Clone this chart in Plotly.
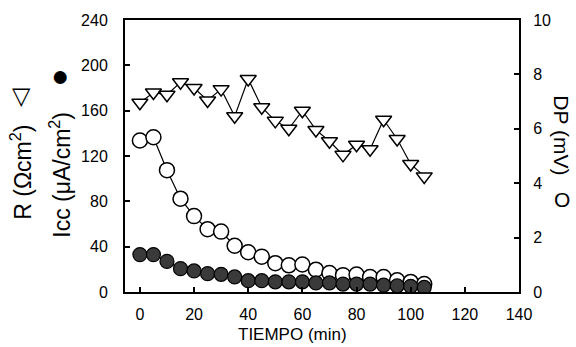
import plotly.graph_objects as go

tiempo = [0, 5, 10, 15, 20, 25, 30, 35, 40, 45, 50, 55, 60, 65, 70, 75, 80, 85, 90, 95, 100, 105]
R_vals = [167, 176, 174, 185, 180, 169, 179, 155, 188, 163, 151, 144, 160, 143, 133, 121, 130, 126, 152, 135, 113, 102]
DP_vals = [5.57, 5.69, 4.48, 3.43, 2.79, 2.31, 2.22, 1.70, 1.46, 1.30, 1.06, 0.98, 1.01, 0.82, 0.70, 0.62, 0.64, 0.55, 0.55, 0.43, 0.37, 0.29]
Icc_vals = [33, 33, 27, 20.6, 18.6, 16.2, 15.6, 13.3, 10, 10, 9, 9, 9, 8, 8, 7, 7, 7, 6, 5.5, 5, 4]

x_ticks = [0, 20, 40, 60, 80, 100, 120, 140]
left_ticks = [0, 40, 80, 120, 160, 200, 240]
right_ticks = [0, 2, 4, 6, 8, 10]

FONT = "Liberation Sans, Arial, sans-serif"
L, R, T, B = 125, 57, 16, 55
W, H = 576, 347
PW, PH = W - L - R, H - T - B

def px(x):
    return (x - L) / PW

def py(y):
    return (H - B - y) / PH

fig = go.Figure()

# DP on primary y (right side), R and Icc on y2 (left side, drawn on top)
fig.add_trace(go.Scatter(
    x=tiempo, y=DP_vals, yaxis="y", mode="lines+markers",
    line=dict(color="black", width=1.2),
    marker=dict(symbol="circle", size=15, color="white", line=dict(color="black", width=1.5)),
    showlegend=False))
fig.add_trace(go.Scatter(
    x=tiempo, y=R_vals, yaxis="y2", mode="lines+markers",
    line=dict(color="black", width=1.2),
    marker=dict(symbol="triangle-down", size=14, color="white", line=dict(color="black", width=1.5)),
    showlegend=False))
fig.add_trace(go.Scatter(
    x=tiempo, y=Icc_vals, yaxis="y2", mode="lines+markers",
    line=dict(color="black", width=1.2),
    marker=dict(symbol="circle", size=14, color="#3a3a3a", line=dict(color="black", width=1.2)),
    showlegend=False))

axis_common = dict(showgrid=False, zeroline=False, showline=True, linecolor="black", linewidth=2,
                   ticks="inside", ticklen=5, tickwidth=1.5, tickcolor="black",
                   tickfont=dict(family=FONT, size=16, color="black"))

fig.update_layout(
    width=W, height=H,
    margin=dict(l=L, r=R, t=T, b=B),
    paper_bgcolor="white", plot_bgcolor="white",
    font=dict(family=FONT, size=16, color="black"),
    xaxis=dict(range=[-5.5, 140], tickvals=x_ticks, mirror=True,
               ticklabelstandoff=7, **axis_common),
    yaxis=dict(range=[0, 10], tickvals=right_ticks, side="right",
               ticklabelstandoff=9, **axis_common),
    yaxis2=dict(range=[0, 240], tickvals=left_ticks, side="left", overlaying="y",
                ticklabelstandoff=12, **axis_common),
)

annos = [
    dict(text="TIEMPO (min)", x=px(292), y=py(335), textangle=0, size=17),
    dict(text="R (Ωcm<sup>2</sup>)", x=px(21), y=py(171), textangle=-90, size=23),
    dict(text="▽", x=px(21), y=py(93), textangle=0, size=24),
    dict(text="Icc (μA/cm<sup>2</sup>)", x=px(60), y=py(173), textangle=-90, size=23),
    dict(text="●", x=px(60), y=py(72), textangle=0, size=30),
    dict(text="DP (mV)", x=px(562), y=py(133), textangle=90, size=21),
    dict(text="O", x=px(562), y=py(198), textangle=0, size=21),
]
for a in annos:
    s = a.pop("size")
    fig.add_annotation(xref="paper", yref="paper", showarrow=False,
                       xanchor="center", yanchor="middle",
                       font=dict(family=FONT, size=s, color="black"), **a)

fig.write_html("out.html")
